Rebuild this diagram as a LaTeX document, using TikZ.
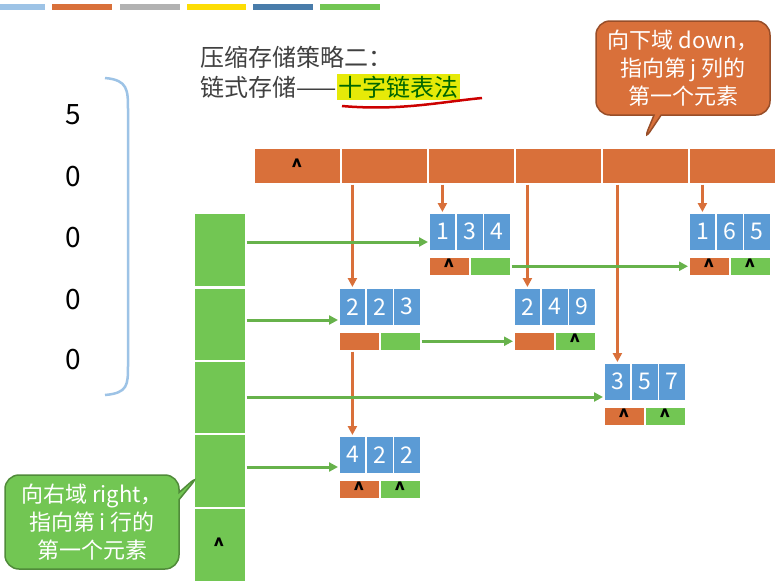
\documentclass[tikz,border=0pt]{standalone}
\usepackage{fontspec}
\setmainfont{Noto Sans CJK SC}
\usetikzlibrary{arrows.meta,shapes.callouts}
\definecolor{og}{HTML}{D9703A}
\definecolor{gr}{HTML}{72C653}
\definecolor{bl}{HTML}{5B9BD5}
\begin{document}
\begin{tikzpicture}[x=1pt,y=-1pt,
 cell/.style={draw=white,line width=1.5pt,minimum height=#1,inner sep=0,anchor=north west},
 bc/.style={cell=38pt,fill=bl,minimum width=27.3pt,text=white,font=\fontsize{23}{23}\selectfont},
 oc/.style={cell=19pt,fill=og,minimum width=41pt},
 gc/.style={cell=19pt,fill=gr,minimum width=41pt},
 car/.style={font=\fontsize{19}{19}\selectfont\bfseries},
 oarr/.style={draw=og,line width=3pt,-{Triangle[length=9pt,width=9pt]}},
 garr/.style={draw=gr!90!black,line width=3pt,-{Triangle[length=9pt,width=9pt]}}]
\useasboundingbox[fill=white] (0,0) rectangle (775,581);
% top bars
\foreach \a/\b/\c in {0/45/bl!60,52/112/og,120/180/gray!60,187/246/yellow!80!orange,253/313/bl!80!black,320/380/gr}
 \fill[\c] (\a,4) rectangle (\b,10);
% title
\node[anchor=west,font=\fontsize{24}{24}\selectfont,text=black!75,inner sep=0] (t1) at (200,57) {压缩存储策略二：};
\node[anchor=west,font=\fontsize{24}{24}\selectfont,text=black!75,inner sep=0] (t2) at (200,87) {链式存储——};
\node[anchor=west,font=\fontsize{24}{24}\selectfont,text=black!60!green,fill=yellow!90!green,inner sep=1.5pt] (t3) at (t2.east) {十字链表法};
\draw[red!80!black,line width=2.5pt] (342,106) .. controls (400,111) and (440,102) .. (482,98);
% bracket and numbers
\draw[bl!60,line width=2.5pt] (105,78) .. controls (128,80) and (128,90) .. (128,110) -- (128,365) .. controls (128,385) and (128,393) .. (105,395);
\foreach \v/\y [count=\i] in {5/115,0/177,0/238,0/300,0/360}
 \node[font=\fontsize{28}{28}\selectfont] (n\i) at (73,\y) {\v};
% top header bar
\foreach \i in {1,...,6}
 \node[cell=36pt,fill=og,minimum width=87pt] (h\i) at (253+87*\i-87,147) {};
\node[car] at (h1) {\textasciicircum};
% left column
\foreach \i/\y in {1/212,2/287,3/360,4/433,5/507}
 \node[cell=74pt,fill=gr,minimum width=52pt] (r\i) at (193,\y) {};
\node[car] at (r5) {\textasciicircum};
% element nodes
\newcommand\elem[6]{%
 \node[bc] (#1a) at (#2,#3) {#4};
 \node[bc] (#1b) at (#2+27.3,#3) {#5};
 \node[bc] (#1c) at (#2+54.6,#3) {#6};
 \node[oc] (#1d) at (#2,#3+44) {};
 \node[gc] (#1r) at (#2+41,#3+44) {};}
\elem{A}{428}{212}{1}{3}{4}
\elem{B}{688}{212}{1}{6}{5}
\elem{C}{338}{287}{2}{2}{3}
\elem{D}{513}{287}{2}{4}{9}
\elem{E}{603}{362}{3}{5}{7}
\elem{F}{338}{435}{4}{2}{2}
\foreach \n in {A,B,E,F} \node[car] at (\n d) {\textasciicircum};
\foreach \n in {B,D,E,F} \node[car] at (\n r) {\textasciicircum};
% orange arrows
\draw[oarr] (h2.south -| Ca) -- (Ca.north);
\draw[oarr] (Cd.south -| Ca) -- (Fa.north);
\draw[oarr] (h3.south -| Aa) -- (Aa.north);
\draw[oarr] (h4.south -| Da) -- (Da.north);
\draw[oarr] (h5.south -| Ea) -- (Ea.north);
\draw[oarr] (h6.south -| Ba) -- (Ba.north);
% green arrows
\draw[garr] (r1.east |- 0,242) -- (Aa.west |- 0,242);
\draw[garr] (Ar.east) -- (Bd.west);
\draw[garr] (r2.east |- 0,320) -- (Ca.west |- 0,320);
\draw[garr] (Cr.east) -- (Dd.west);
\draw[garr] (r3.east |- 0,397) -- (Ea.west |- 0,397);
\draw[garr] (r4.east |- 0,467) -- (Fa.west |- 0,467);
% callouts
\node[rectangle callout,rounded corners=14pt,fill=og,draw=og!70!black,line width=1.5pt,text=white,align=center,
 minimum width=174pt,minimum height=94pt,font=\fontsize{22}{28}\selectfont,inner sep=2pt,
 callout absolute pointer={(643,142)}] (c1) at (683,68) {向下域 down，\\指向第 j 列的\\第一个元素};
\node[rectangle callout,rounded corners=14pt,fill=gr,draw=gr!70!black,line width=1.5pt,text=white,align=center,
 minimum width=174pt,minimum height=94pt,font=\fontsize{22}{28}\selectfont,inner sep=2pt,
 callout absolute pointer={(200,474)}] (c2) at (92,522) {向右域 right，\\指向第 i 行的\\第一个元素};
\end{tikzpicture}
\end{document}
